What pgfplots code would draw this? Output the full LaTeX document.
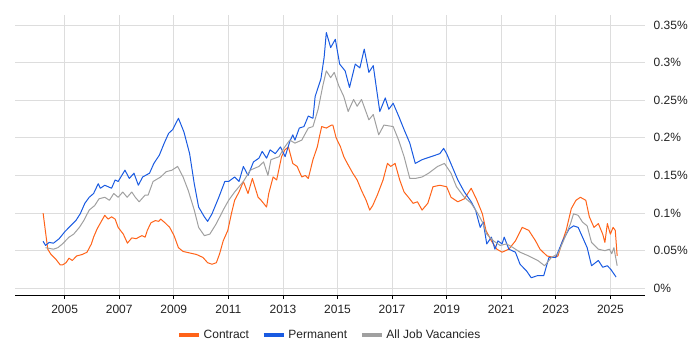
\documentclass[border=0pt]{standalone}
\usepackage{pgfplots}
\pgfplotsset{compat=1.18}
\usepackage{fontspec}
\setmainfont{Liberation Sans}
\definecolor{contract}{RGB}{255,99,25}
\definecolor{perm}{RGB}{25,90,225}
\definecolor{allv}{RGB}{160,160,160}
\definecolor{gridc}{RGB}{221,221,221}
\definecolor{txt}{RGB}{34,34,34}
\begin{document}
\begin{tikzpicture}
\path[use as bounding box] (-11.25pt,-41.25pt) rectangle (513.75pt,221.25pt);
\begin{axis}[
  at={(0pt,0pt)}, anchor=south west,
  scale only axis, width=472.5pt, height=210pt,
  xmin=2003.18, xmax=2026.27, ymin=-0.0089, ymax=0.3633,
  axis x line*=bottom, axis y line*=right,
  x axis line style={-, black, line width=0.75pt},
  y axis line style={draw=none},
  xtick={2005,2007,...,2025},
  xticklabels={2005,2007,2009,2011,2013,2015,2017,2019,2021,2023,2025},
  ytick={0,0.05,0.1,0.15,0.2,0.25,0.3,0.35},
  yticklabels={0\%,0.05\%,0.1\%,0.15\%,0.2\%,0.25\%,0.3\%,0.35\%},
  tick align=outside,
  x tick style={black, line width=0.6pt},
  major tick length=3pt,
  y tick style={draw=none},
  grid=major, major grid style={gridc, line width=0.6pt},
  tick label style={font=\fontsize{9}{11}\selectfont, text=txt},
  yticklabel style={anchor=west, xshift=0pt},
  xticklabel style={yshift=-1pt},
  legend style={at={(0.5,-0.143)}, anchor=center, draw=none, fill=none,
    legend columns=-1, font=\fontsize{9}{11}\selectfont, text=txt,
    /tikz/every even column/.append style={column sep=7.5pt}},
  legend image code/.code={\draw[line width=3pt] (0pt,0pt) -- (15pt,0pt);},
  every axis plot/.append style={line width=0.75pt, line join=round},
]
\addplot[contract] coordinates {
(2004.21,0.100)(2004.38,0.052)(2004.50,0.045)(2004.67,0.039)(2004.84,0.031)(2004.92,0.031)(2005.05,0.034)(2005.16,0.040)(2005.28,0.037)(2005.44,0.043)(2005.65,0.045)(2005.82,0.048)(2005.98,0.059)(2006.06,0.068)(2006.19,0.079)(2006.36,0.090)(2006.47,0.097)(2006.59,0.092)(2006.72,0.095)(2006.85,0.092)(2006.96,0.081)(2007.15,0.072)(2007.30,0.060)(2007.46,0.067)(2007.62,0.066)(2007.83,0.070)(2007.95,0.068)(2008.03,0.077)(2008.16,0.087)(2008.32,0.090)(2008.45,0.089)(2008.52,0.092)(2008.68,0.087)(2008.85,0.081)(2009.01,0.070)(2009.17,0.054)(2009.34,0.049)(2009.58,0.047)(2009.83,0.045)(2010.07,0.041)(2010.24,0.034)(2010.40,0.032)(2010.56,0.034)(2010.68,0.046)(2010.81,0.063)(2010.98,0.077)(2011.11,0.099)(2011.23,0.117)(2011.39,0.128)(2011.55,0.142)(2011.72,0.126)(2011.88,0.146)(2012.09,0.121)(2012.20,0.117)(2012.40,0.108)(2012.48,0.126)(2012.64,0.148)(2012.77,0.144)(2012.95,0.175)(2013.07,0.184)(2013.20,0.188)(2013.36,0.166)(2013.52,0.162)(2013.69,0.148)(2013.82,0.150)(2013.93,0.146)(2014.10,0.171)(2014.26,0.188)(2014.34,0.202)(2014.42,0.215)(2014.59,0.213)(2014.78,0.217)(2014.83,0.217)(2014.95,0.200)(2015.11,0.188)(2015.23,0.175)(2015.36,0.166)(2015.56,0.153)(2015.72,0.144)(2015.88,0.130)(2016.05,0.117)(2016.18,0.104)(2016.29,0.110)(2016.46,0.124)(2016.67,0.144)(2016.83,0.166)(2016.95,0.162)(2017.11,0.166)(2017.28,0.144)(2017.44,0.128)(2017.60,0.121)(2017.77,0.113)(2017.93,0.115)(2018.10,0.104)(2018.31,0.113)(2018.50,0.135)(2018.75,0.137)(2019.00,0.135)(2019.16,0.121)(2019.41,0.115)(2019.65,0.119)(2019.90,0.133)(2020.11,0.117)(2020.31,0.099)(2020.44,0.077)(2020.64,0.063)(2020.84,0.052)(2021.03,0.048)(2021.28,0.052)(2021.52,0.063)(2021.77,0.081)(2022.01,0.077)(2022.26,0.063)(2022.42,0.052)(2022.68,0.043)(2022.93,0.041)(2023.08,0.043)(2023.21,0.059)(2023.38,0.077)(2023.57,0.106)(2023.74,0.117)(2023.90,0.121)(2024.10,0.117)(2024.23,0.095)(2024.40,0.081)(2024.56,0.086)(2024.72,0.072)(2024.80,0.061)(2024.89,0.086)(2025.00,0.072)(2025.10,0.081)(2025.18,0.077)(2025.25,0.043)
};
\addlegendentry{Contract}
\addplot[perm] coordinates {
(2004.21,0.0625)(2004.30,0.057)(2004.43,0.061)(2004.59,0.060)(2004.80,0.066)(2005.00,0.075)(2005.16,0.081)(2005.41,0.090)(2005.57,0.099)(2005.74,0.113)(2005.90,0.121)(2006.06,0.126)(2006.23,0.139)(2006.31,0.133)(2006.47,0.137)(2006.72,0.133)(2006.85,0.144)(2006.96,0.142)(2007.21,0.157)(2007.37,0.146)(2007.54,0.153)(2007.70,0.137)(2007.86,0.148)(2008.11,0.153)(2008.27,0.166)(2008.47,0.177)(2008.65,0.193)(2008.81,0.206)(2008.96,0.211)(2009.17,0.226)(2009.37,0.208)(2009.58,0.179)(2009.75,0.139)(2009.91,0.108)(2010.12,0.095)(2010.24,0.089)(2010.40,0.099)(2010.65,0.121)(2010.87,0.142)(2011.01,0.142)(2011.23,0.148)(2011.39,0.142)(2011.55,0.162)(2011.72,0.150)(2011.92,0.168)(2012.12,0.173)(2012.24,0.182)(2012.40,0.173)(2012.53,0.184)(2012.72,0.179)(2012.91,0.188)(2013.08,0.175)(2013.25,0.195)(2013.36,0.204)(2013.44,0.197)(2013.60,0.213)(2013.77,0.215)(2013.93,0.229)(2014.10,0.226)(2014.18,0.255)(2014.39,0.278)(2014.51,0.307)(2014.59,0.340)(2014.75,0.320)(2014.92,0.331)(2015.08,0.298)(2015.28,0.289)(2015.44,0.267)(2015.65,0.298)(2015.82,0.293)(2015.98,0.318)(2016.15,0.287)(2016.31,0.296)(2016.47,0.255)(2016.55,0.235)(2016.75,0.253)(2016.88,0.238)(2017.04,0.246)(2017.24,0.229)(2017.44,0.211)(2017.65,0.193)(2017.85,0.166)(2018.10,0.171)(2018.43,0.175)(2018.75,0.179)(2018.89,0.186)(2019.00,0.179)(2019.20,0.162)(2019.41,0.144)(2019.65,0.128)(2019.90,0.115)(2020.06,0.104)(2020.23,0.081)(2020.34,0.088)(2020.47,0.059)(2020.64,0.068)(2020.77,0.052)(2020.88,0.063)(2021.03,0.059)(2021.11,0.068)(2021.28,0.052)(2021.52,0.048)(2021.69,0.032)(2021.93,0.023)(2022.10,0.014)(2022.34,0.017)(2022.56,0.017)(2022.75,0.041)(2023.00,0.041)(2023.25,0.063)(2023.49,0.079)(2023.65,0.083)(2023.82,0.081)(2023.98,0.068)(2024.15,0.054)(2024.31,0.030)(2024.56,0.037)(2024.72,0.028)(2024.89,0.030)(2025.02,0.025)(2025.21,0.015)
};
\addlegendentry{Permanent}
\addplot[allv] coordinates {
(2004.30,0.054)(2004.59,0.052)(2004.75,0.054)(2004.92,0.059)(2005.16,0.068)(2005.33,0.072)(2005.54,0.081)(2005.70,0.090)(2005.90,0.104)(2006.10,0.110)(2006.26,0.119)(2006.47,0.121)(2006.64,0.117)(2006.80,0.126)(2006.96,0.121)(2007.13,0.128)(2007.29,0.121)(2007.46,0.128)(2007.59,0.121)(2007.73,0.115)(2007.95,0.124)(2008.06,0.124)(2008.24,0.142)(2008.52,0.148)(2008.72,0.155)(2008.93,0.157)(2009.14,0.162)(2009.34,0.148)(2009.53,0.130)(2009.75,0.104)(2009.91,0.081)(2010.12,0.070)(2010.32,0.072)(2010.56,0.086)(2010.81,0.104)(2011.01,0.117)(2011.23,0.128)(2011.55,0.142)(2011.80,0.157)(2012.12,0.162)(2012.29,0.168)(2012.45,0.150)(2012.56,0.171)(2012.86,0.175)(2013.03,0.186)(2013.25,0.197)(2013.44,0.193)(2013.69,0.197)(2013.93,0.213)(2014.10,0.215)(2014.29,0.238)(2014.46,0.269)(2014.59,0.289)(2014.75,0.280)(2014.88,0.287)(2015.05,0.269)(2015.23,0.255)(2015.39,0.235)(2015.59,0.251)(2015.72,0.242)(2015.88,0.251)(2016.15,0.224)(2016.31,0.231)(2016.51,0.204)(2016.70,0.217)(2017.04,0.215)(2017.24,0.197)(2017.44,0.175)(2017.65,0.146)(2017.85,0.146)(2018.10,0.148)(2018.34,0.153)(2018.67,0.162)(2018.92,0.166)(2019.16,0.153)(2019.36,0.135)(2019.65,0.121)(2019.90,0.113)(2020.15,0.099)(2020.31,0.088)(2020.47,0.072)(2020.72,0.063)(2020.96,0.057)(2021.20,0.059)(2021.44,0.054)(2021.69,0.048)(2022.01,0.043)(2022.34,0.037)(2022.59,0.030)(2022.84,0.041)(2023.08,0.046)(2023.28,0.063)(2023.54,0.086)(2023.65,0.099)(2023.82,0.097)(2023.98,0.088)(2024.15,0.083)(2024.31,0.061)(2024.56,0.052)(2024.80,0.050)(2024.97,0.052)(2025.05,0.046)(2025.13,0.054)(2025.25,0.030)
};
\addlegendentry{All Job Vacancies}
\end{axis}
\end{tikzpicture}
\end{document}
